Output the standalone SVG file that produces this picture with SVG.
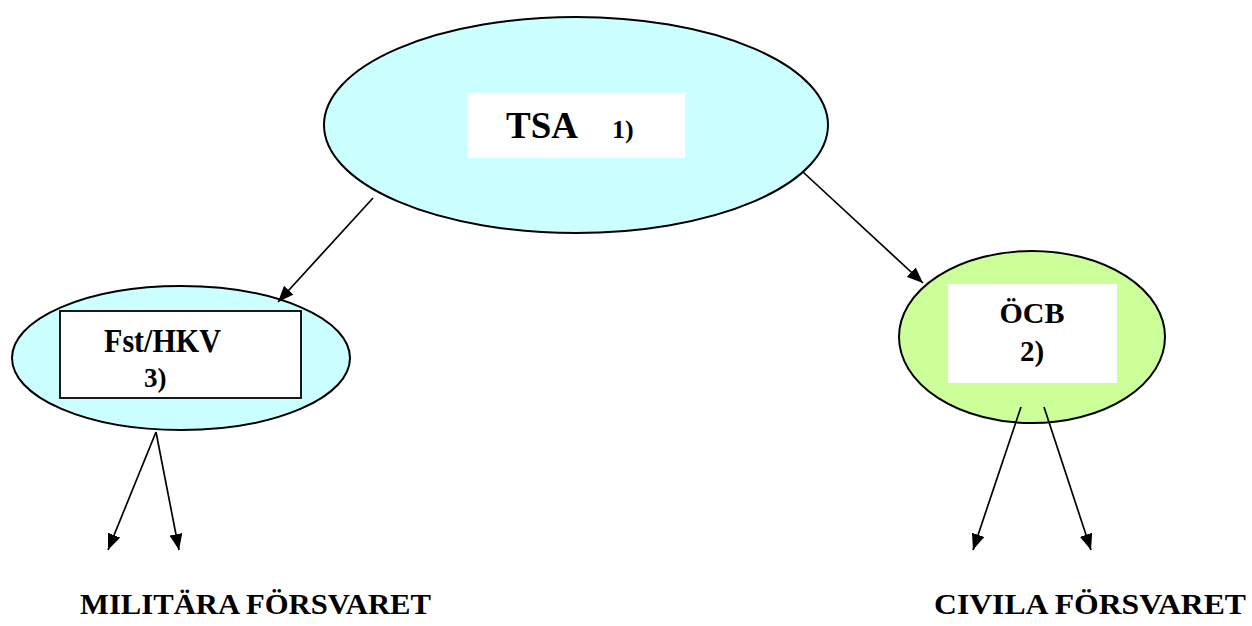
<svg xmlns="http://www.w3.org/2000/svg" width="1252" height="626" viewBox="0 0 1252 626">
<style>
.t{font-family:'Liberation Serif','Times New Roman',serif;font-weight:bold;fill:#000}
.node{stroke:#000;stroke-width:2}
.conn line{stroke:#000;stroke-width:1.7;marker-end:url(#ah)}
</style>
<defs>
<marker id="ah" viewBox="0 0 16 13" refX="16" refY="6.5" markerWidth="16" markerHeight="13" markerUnits="userSpaceOnUse" orient="auto">
<path d="M0,0 L16,6.5 L0,13 Z" fill="#000"/>
</marker>
</defs>
<rect width="1252" height="626" fill="#fff"/>
<g id="tsa">
<ellipse class="node" cx="576" cy="125" rx="252" ry="108" fill="#ccffff"/>
<rect x="468" y="93" width="217" height="65" fill="#fff"/>
<text class="t" x="506" y="138" font-size="37">TSA</text>
<text class="t" x="612" y="138" font-size="26">1)</text>
</g>
<g id="fst">
<ellipse class="node" cx="181" cy="358" rx="169" ry="72" fill="#ccffff"/>
<rect x="60" y="311" width="241" height="87" fill="#fff" stroke="#000" stroke-width="1.8"/>
<text class="t" x="104" y="352" font-size="34" textLength="117" lengthAdjust="spacingAndGlyphs">Fst/HKV</text>
<text class="t" x="144" y="387" font-size="27">3)</text>
</g>
<g id="ocb">
<ellipse class="node" cx="1032" cy="337" rx="133" ry="86" fill="#ccff99"/>
<rect x="948" y="284" width="169" height="99" fill="#fff"/>
<text class="t" x="1032" y="323" font-size="30" text-anchor="middle">ÖCB</text>
<text class="t" x="1032" y="361" font-size="29" text-anchor="middle">2)</text>
</g>
<g id="connectors" class="conn">
<line x1="373" y1="198" x2="278" y2="302"/>
<line x1="803" y1="172" x2="923" y2="283"/>
<line x1="156" y1="432" x2="108" y2="550"/>
<line x1="156" y1="432" x2="179" y2="550"/>
<line x1="1021" y1="407" x2="973" y2="550"/>
<line x1="1044" y1="407" x2="1091" y2="550"/>
</g>
<g id="labels">
<text class="t" x="80" y="614" font-size="30" textLength="351" lengthAdjust="spacingAndGlyphs">MILITÄRA FÖRSVARET</text>
<text class="t" x="934" y="614" font-size="30" textLength="312" lengthAdjust="spacingAndGlyphs">CIVILA FÖRSVARET</text>
</g>
</svg>
